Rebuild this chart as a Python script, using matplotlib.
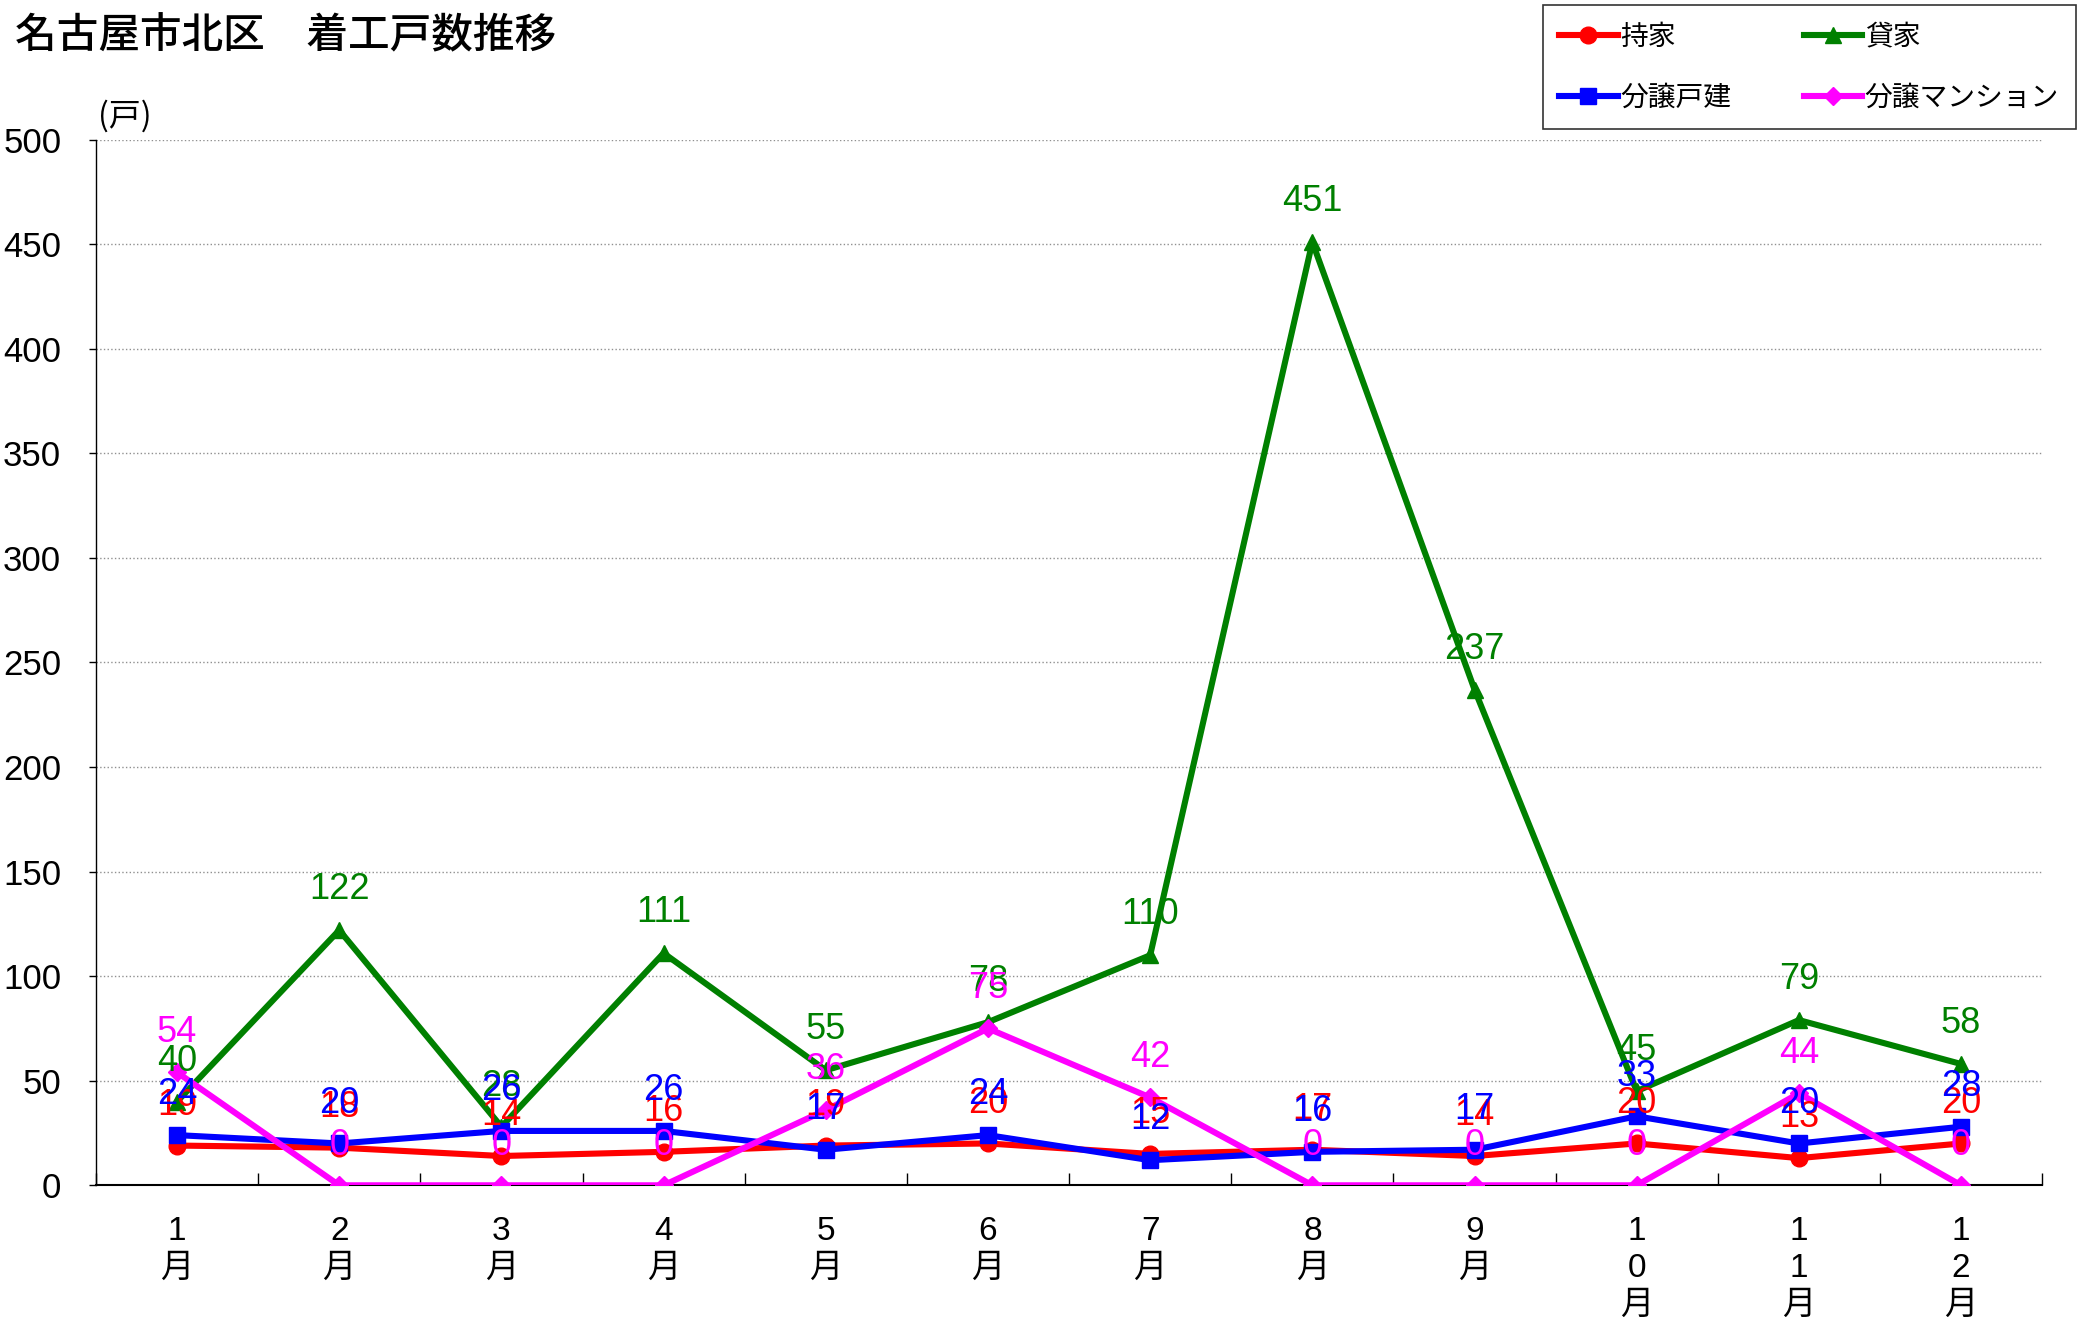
import matplotlib
matplotlib.use('Agg')
import matplotlib.pyplot as plt
from matplotlib import font_manager as fm
from matplotlib.lines import Line2D

# pick a narrow latin font if present, CJK as fallback
names = {f.name for f in fm.fontManager.ttflist}
narrow = 'Liberation Sans Narrow' if 'Liberation Sans Narrow' in names else 'Liberation Sans'
fam = [narrow, 'Noto Sans CJK JP', 'DejaVu Sans']
cjk = ['Noto Sans CJK JP', 'DejaVu Sans']
plt.rcParams['font.family'] = fam

months = ['1\n月', '2\n月', '3\n月', '4\n月', '5\n月', '6\n月', '7\n月', '8\n月', '9\n月',
          '1\n0\n月', '1\n1\n月', '1\n2\n月']
mochiie = [19, 18, 14, 16, 19, 20, 15, 17, 14, 20, 13, 20]
kashiya = [40, 122, 28, 111, 55, 78, 110, 451, 237, 45, 79, 58]
bunjo_kodate = [24, 20, 26, 26, 17, 24, 12, 16, 17, 33, 20, 28]
bunjo_mansion = [54, 0, 0, 0, 36, 75, 42, 0, 0, 0, 44, 0]

series = [
    ('持家', mochiie, '#FF0000', 'o', 12),
    ('貸家', kashiya, '#008000', '^', 12),
    ('分譲戸建', bunjo_kodate, '#0000FF', 's', 11),
    ('分譲マンション', bunjo_mansion, '#FF00FF', 'D', 9),
]

fig = plt.figure(figsize=(20.86, 13.17), dpi=100)
ax = fig.add_axes([0.046, 0.100, 0.933, 0.794])
x = list(range(len(months)))

handles = {}
for name, vals, col, mk, ms in series:
    ax.plot(x, vals, color=col, lw=4.4, marker=mk, ms=ms, zorder=3)
    handles[name] = Line2D([], [], color=col, lw=4.4, marker=mk, ms=ms)

# data labels above each point
for name, vals, col, mk, ms in series:
    for xi, v in zip(x, vals):
        ax.annotate(str(v), (xi, v), xytext=(0, 29), textcoords='offset points',
                    ha='center', va='center', color=col, fontsize=26, zorder=4)

ax.set_xlim(-0.5, len(months) - 0.5)
ax.set_ylim(0, 500)
ax.set_yticks(range(0, 501, 50))
ax.yaxis.grid(True, linestyle=':', color='#909090', lw=1)
ax.set_axisbelow(True)

ax.set_xticks(x)
ax.set_xticklabels(months, fontsize=24, linespacing=1.25)
ax.set_xticks([i - 0.5 for i in range(len(months) + 1)], minor=True)
ax.tick_params(axis='x', which='major', length=0, pad=22)
ax.tick_params(axis='x', which='minor', direction='in', length=9, width=1)
ax.tick_params(axis='y', direction='out', length=5, width=1, labelsize=25, pad=20)

for s in ['top', 'right']:
    ax.spines[s].set_visible(False)
ax.spines['left'].set_linewidth(1)
ax.spines['bottom'].set_linewidth(1.5)

fig.text(0.007, 0.973, '名古屋市北区　着工戸数推移', fontsize=30, family=cjk,
         weight='medium', va='center')
fig.text(0.047, 0.912, '(戸)', fontsize=23, family=cjk, va='center')

order = ['持家', '分譲戸建', '貸家', '分譲マンション']
leg = fig.legend([handles[k] for k in order], order, loc='upper right',
                 bbox_to_anchor=(0.995, 0.996), borderaxespad=0, ncol=2,
                 prop={'family': cjk, 'size': 20},
                 frameon=True, fancybox=False, edgecolor='black', handlelength=2.1,
                 columnspacing=2.6, labelspacing=1.1, handletextpad=0.1, borderpad=0.6)
leg.get_frame().set_linewidth(1.2)

fig.savefig('out.png', dpi=100)
